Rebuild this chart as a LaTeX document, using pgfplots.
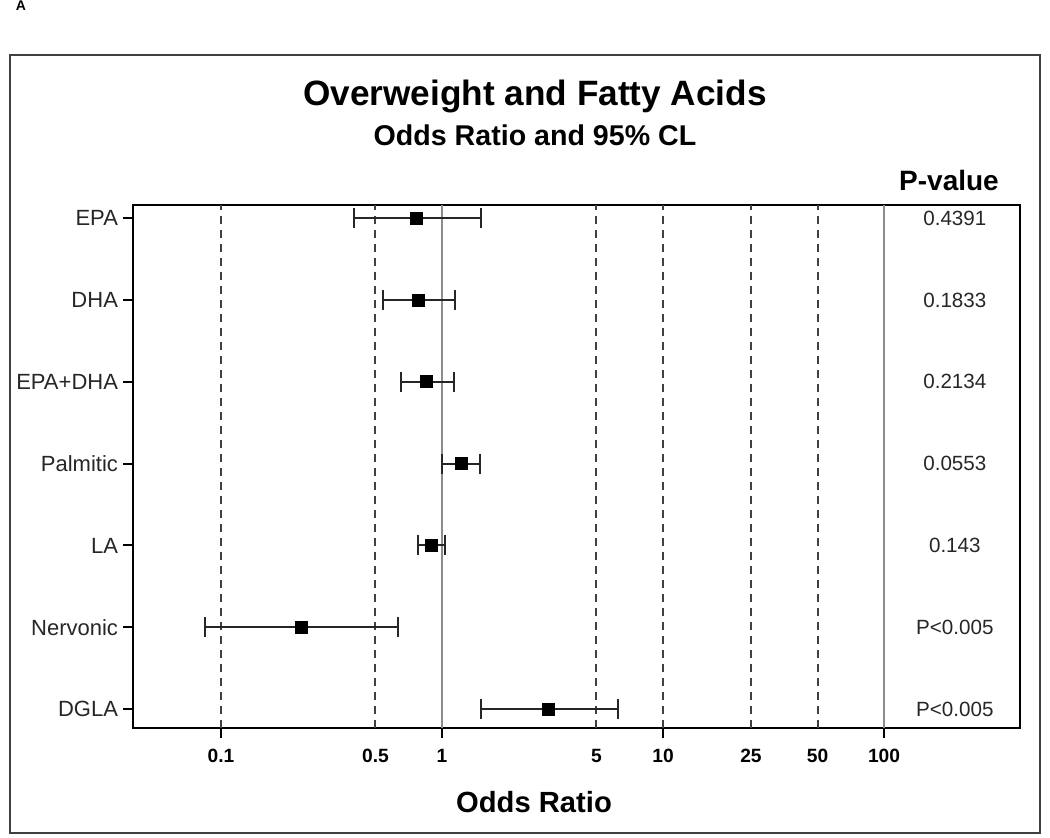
\documentclass[border=0pt]{standalone}
\usepackage{pgfplots}
\pgfplotsset{compat=1.18}
\usepackage{pgfplotstable}
\usepackage{fontspec}
\setmainfont{Liberation Sans}
\pgfplotstableread{
or y
0.77 7
0.78 6
0.85 5
1.23 4
0.90 3
0.23 2
3.02 1
}\pointdata
\pgfplotstableread{
x y
0.40 7
1.50 7
nan nan
0.54 6
1.15 6
nan nan
0.65 5
1.13 5
nan nan
1.00 4
1.49 4
nan nan
0.78 3
1.03 3
nan nan
0.085 2
0.63 2
nan nan
1.50 1
6.26 1
}\cidata
\begin{document}
\begin{tikzpicture}
\useasboundingbox (-66.5pt,-54.5pt) rectangle (458.5pt,364pt);
\draw[line width=1pt, black!75] (-61.5pt,-52.5pt) rectangle (453.5pt,336.5pt);
\node[font=\bfseries\fontsize{7}{8}\selectfont] at (-56pt,361pt) {A};
\node[anchor=base, font=\bfseries\fontsize{17.6}{20}\selectfont] at (201pt,311.5pt) {Overweight and Fatty Acids};
\node[anchor=base, font=\bfseries\fontsize{14.3}{16}\selectfont] at (201pt,291pt) {Odds Ratio and 95\% CL};
\node[anchor=base, font=\bfseries\fontsize{14}{16}\selectfont] at (408pt,269pt) {P-value};
\node[anchor=base, font=\bfseries\fontsize{14.6}{16}\selectfont] at (200.5pt,-42pt) {Odds Ratio};
\begin{axis}[
  scale only axis, width=443.5pt, height=261.5pt,
  at={(0pt,0pt)}, anchor=south west,
  xmode=log, xmin=0.04, xmax=412, ymin=0.77, ymax=7.16,
  axis line style={line width=1pt},
  xtick={0.1,1,10,100}, xticklabels={0.1,1,10,100},
  extra x ticks={0.5,5,25,50}, extra x tick labels={0.5,5,25,50},
  extra x tick style={major tick style={draw=none}},
  xminorticks=false, yminorticks=false,
  tick align=outside, major tick length=5pt,
  tick style={line width=1pt, black},
  xtick pos=bottom, ytick pos=left,
  ytick={1,2,3,4,5,6,7},
  yticklabels={DGLA,Nervonic,LA,Palmitic,EPA+DHA,DHA,EPA},
  xticklabel style={font=\bfseries\fontsize{9.6}{11}\selectfont, yshift=-2pt},
  yticklabel style={font=\fontsize{11}{13}\selectfont, xshift=1pt, text=black!85},
  /pgf/number format/assume math mode=true,
  clip=false,
]
\foreach \v in {0.1,0.5,5,10,25,50} {
  \edef\tmp{\noexpand\addplot[black!75, line width=1pt, dash pattern=on 4pt off 3pt, forget plot] coordinates {(\v,0.77) (\v,7.16)};}
  \tmp
}
\addplot[black!45, line width=0.9pt, forget plot] coordinates {(1,0.77) (1,7.16)};
\addplot[black!45, line width=0.9pt, forget plot] coordinates {(100,0.77) (100,7.16)};
\addplot[black!85, line width=1pt, unbounded coords=jump, mark=|, mark size=5pt, mark options={line width=1pt, solid}] table[x=x, y=y] {\cidata};
\addplot[only marks, mark=square*, mark size=3pt, black] table[x=or, y=y] {\pointdata};
\node[font=\fontsize{10.3}{12}\selectfont, text=black!85] at (axis cs:209,7) {0.4391};
\node[font=\fontsize{10.3}{12}\selectfont, text=black!85] at (axis cs:209,6) {0.1833};
\node[font=\fontsize{10.3}{12}\selectfont, text=black!85] at (axis cs:209,5) {0.2134};
\node[font=\fontsize{10.3}{12}\selectfont, text=black!85] at (axis cs:209,4) {0.0553};
\node[font=\fontsize{10.3}{12}\selectfont, text=black!85] at (axis cs:209,3) {0.143};
\node[font=\fontsize{10.3}{12}\selectfont, text=black!85] at (axis cs:209,2) {P<0.005};
\node[font=\fontsize{10.3}{12}\selectfont, text=black!85] at (axis cs:209,1) {P<0.005};
\end{axis}
\end{tikzpicture}
\end{document}
